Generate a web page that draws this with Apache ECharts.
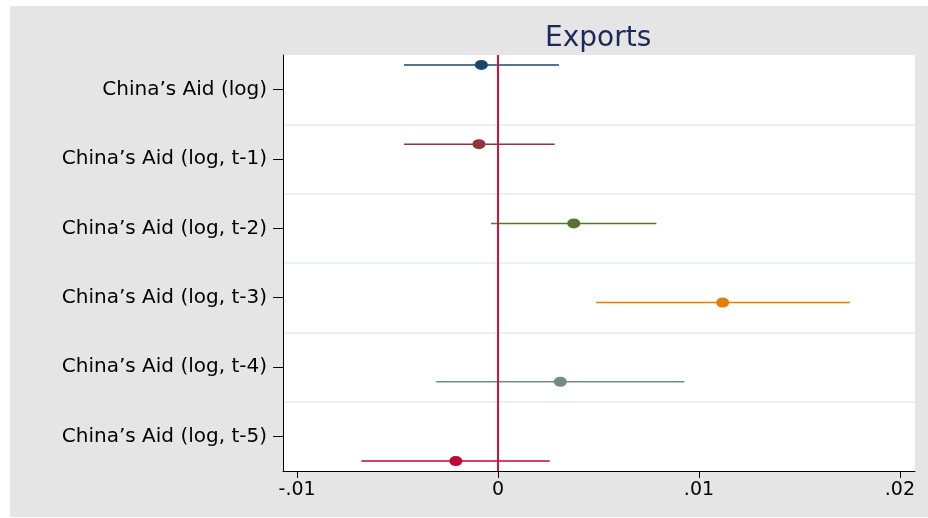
<!DOCTYPE html>
<html>
<head>
<meta charset="utf-8">
<script src="https://cdn.jsdelivr.net/npm/echarts@6/dist/echarts.min.js"></script>
<style>
html,body{margin:0;padding:0;background:#ffffff;}
#chart{width:928px;height:518px;}
</style>
</head>
<body>
<div id="chart"></div>
<script>
// ---- data ----
var categories = ["China\u2019s Aid (log)", "China\u2019s Aid (log, t-1)", "China\u2019s Aid (log, t-2)",
                  "China\u2019s Aid (log, t-3)", "China\u2019s Aid (log, t-4)", "China\u2019s Aid (log, t-5)"];
var coef  = [-0.00083, -0.00095, 0.00377, 0.01118, 0.00310, -0.00210];
var ciLow = [-0.00468, -0.00468, -0.00035, 0.00488, -0.00308, -0.00680];
var ciHigh= [ 0.00303,  0.00282,  0.00788, 0.01751,  0.00927,  0.00257];
var xTickValues = [-0.01, 0, 0.01, 0.02];
var xTickLabels = ["-.01", "0", ".01", ".02"];
var titleText = "Exports";

// ---- style ----
var FONT = 'DejaVu Sans, Liberation Sans, sans-serif';
var colors = ["#1a476f", "#90353b", "#55752f", "#e37e00", "#6e8e84", "#c10534"];
var nModels = categories.length;
function offsetFor(i) { return (i - (nModels - 1) / 2) / (nModels + 1); }

var series = [];
for (var i = 0; i < nModels; i++) {
  var yv = i + 1 + offsetFor(i);
  series.push({
    type: 'line',
    xAxisIndex: 0, yAxisIndex: 1,
    data: [[ciLow[i], yv], [ciHigh[i], yv]],
    showSymbol: false, symbol: 'none',
    lineStyle: { color: colors[i], width: 1.5 },
    silent: true, z: 3
  });
}
series.push({
  type: 'line',
  xAxisIndex: 0, yAxisIndex: 1,
  data: [[0, 0.5], [0, 6.5]],
  showSymbol: false, symbol: 'none',
  lineStyle: { color: '#d4103c', width: 2 },
  silent: true, z: 4
});
var pts = [];
for (var j = 0; j < nModels; j++) {
  pts.push({ value: [coef[j], j + 1 + offsetFor(j)], itemStyle: { color: colors[j], opacity: 1 } });
}
series.push({
  type: 'scatter',
  xAxisIndex: 0, yAxisIndex: 1,
  data: pts,
  symbol: 'circle',
  symbolSize: [13, 10],
  itemStyle: { opacity: 1 },
  silent: true, z: 5
});

var chart = echarts.init(document.getElementById('chart'), null, { renderer: 'canvas' });
chart.setOption({
  animation: false,
  backgroundColor: '#ffffff',
  textStyle: { fontFamily: FONT },
  graphic: [{
    type: 'rect', z: -10, silent: true,
    shape: { x: 10, y: 6, width: 918, height: 511 },
    style: { fill: '#e5e5e5' }
  }],
  title: {
    text: titleText,
    left: 540, top: 20,
    textStyle: { fontSize: 28, fontWeight: 'normal', color: '#1b2a5a', fontFamily: FONT }
  },
  grid: {
    left: 283, right: 13, top: 55, bottom: 47,
    show: true, backgroundColor: '#ffffff', borderWidth: 0
  },
  xAxis: [{
    type: 'value',
    min: -0.0107, max: 0.02075,
    axisLine: { show: true, onZero: false, lineStyle: { color: '#000000', width: 1 } },
    axisTick: { show: true, length: 7, customValues: xTickValues, lineStyle: { color: '#000000' } },
    axisLabel: {
      show: true, customValues: xTickValues, margin: 10,
      fontSize: 19, color: '#000000', fontFamily: FONT,
      formatter: function (v) {
        for (var k = 0; k < xTickValues.length; k++) {
          if (Math.abs(v - xTickValues[k]) < 1e-9) return xTickLabels[k];
        }
        return '';
      }
    },
    splitLine: { show: false }
  }],
  yAxis: [{
    type: 'category',
    data: categories,
    inverse: true,
    boundaryGap: true,
    axisLine: { show: true, onZero: false, lineStyle: { color: '#000000', width: 1 } },
    axisTick: { show: true, alignWithLabel: true, length: 10, lineStyle: { color: '#000000' } },
    axisLabel: { fontSize: 20, color: '#000000', margin: 16, fontFamily: FONT },
    splitLine: { show: true, showMinLine: false, showMaxLine: false, lineStyle: { color: '#eaf0f3', width: 2 } }
  }, {
    type: 'value',
    min: 0.5, max: 6.5,
    inverse: true,
    show: false,
    splitLine: { show: false }
  }],
  series: series
});
</script>
</body>
</html>
